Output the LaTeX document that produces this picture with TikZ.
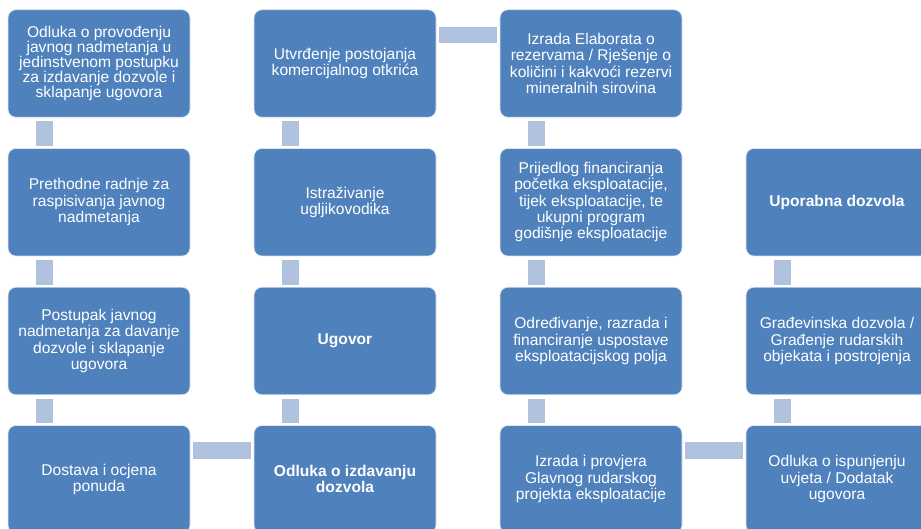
\documentclass[tikz,border=0pt]{standalone}
\usepackage{fontspec}
\setmainfont{Liberation Sans}
\definecolor{boxblue}{HTML}{4F81BD}
\definecolor{connblue}{HTML}{B0C1DD}
\tikzset{
  box/.style={rectangle, rounded corners=8pt, fill=boxblue, draw=white!80!boxblue, line width=0.6pt,
    minimum width=182pt, minimum height=107.5pt, inner sep=0pt, text=white, align=center,
    font=\fontsize{15.6}{16.3}\selectfont},
  vconn/.style={draw=connblue, line width=17pt, line cap=butt},
  hconn/.style={draw=connblue, line width=16.5pt, line cap=butt}
}
\begin{document}
\begin{tikzpicture}[x=1pt,y=-1pt]
\useasboundingbox (0,0) rectangle (921,529);
\clip (0,0) rectangle (921,529);
% column 1
\node[box, font=\fontsize{15.6}{15.2}\selectfont] (a1) at (99,63.5) {Odluka o provođenju\\javnog nadmetanja u\\jedinstvenom postupku\\za izdavanje dozvole i\\sklapanje ugovora};
\node[box] (a2) at (99,202.25) {Prethodne radnje za\\raspisivanja javnog\\nadmetanja};
\node[box] (a3) at (99,341) {Postupak javnog\\nadmetanja za davanje\\dozvole i sklapanje\\ugovora};
\node[box] (a4) at (99,479.25) {Dostava i ocjena\\ponuda};
% column 2
\node[box] (b1) at (345,63.5) {Utvrđenje postojanja\\komercijalnog otkrića};
\node[box] (b2) at (345,202.25) {Istraživanje\\ugljikovodika};
\node[box] (b3) at (345,341) {\bfseries Ugovor};
\node[box] (b4) at (345,479.25) {\bfseries Odluka o izdavanju\\\bfseries dozvola};
% column 3
\node[box] (c1) at (591,63.5) {Izrada Elaborata o\\rezervama / Rješenje o\\količini i kakvoći rezervi\\mineralnih sirovina};
\node[box] (c2) at (591,202.25) {Prijedlog financiranja\\početka eksploatacije,\\tijek eksploatacije, te\\ukupni program\\godišnje eksploatacije};
\node[box] (c3) at (591,341) {Određivanje, razrada i\\financiranje uspostave\\eksploatacijskog polja};
\node[box] (c4) at (591,479.25) {Izrada i provjera\\Glavnog rudarskog\\projekta eksploatacije};
% column 4
\node[box] (d2) at (837,202.25) {\bfseries Uporabna dozvola};
\node[box] (d3) at (837,341) {Građevinska dozvola /\\Građenje rudarskih\\objekata i postrojenja};
\node[box] (d4) at (837,479.25) {Odluka o ispunjenju\\uvjeta / Dodatak\\ugovora};
% vertical connectors
\foreach \u/\l in {a1/a2, a2/a3, a3/a4, b1/b2, b2/b3, b3/b4, c1/c2, c2/c3, c3/c4, d2/d3, d3/d4}{
  \draw[vconn] ([xshift=36.5pt,yshift=-3.5pt]\u.south west) -- ([xshift=36.5pt,yshift=2pt]\l.north west);
}
% horizontal connectors
\foreach \l/\r in {a4/b4, b1/c1, c4/d4}{
  \draw[hconn] ([xshift=3pt,yshift=-25.5pt]\l.north east) -- ([xshift=-3pt,yshift=-25.5pt]\r.north west);
}
\end{tikzpicture}
\end{document}
